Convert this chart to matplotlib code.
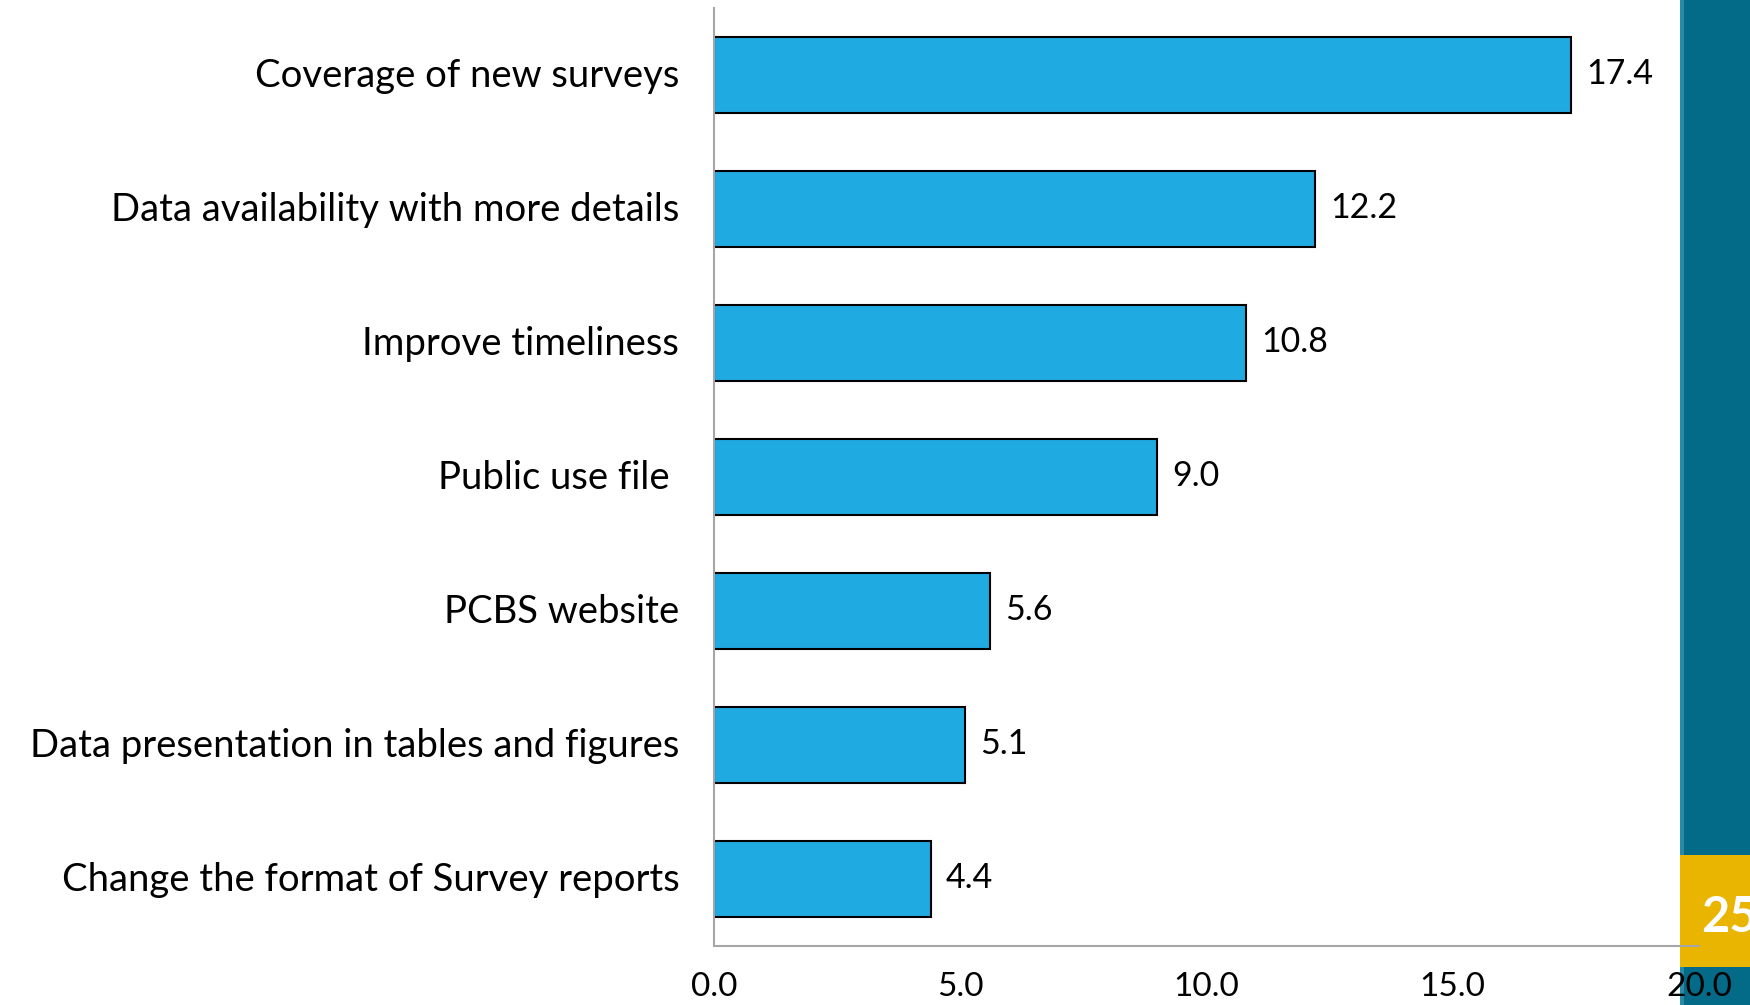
import matplotlib.pyplot as plt
import matplotlib.transforms as mtransforms
from matplotlib.patches import Rectangle

categories = [
    "Coverage of new surveys",
    "Data availability with more details",
    "Improve timeliness",
    "Public use file ",
    "PCBS website",
    "Data presentation in tables and figures",
    "Change the format of Survey reports",
]
values = [17.4, 12.2, 10.8, 9.0, 5.6, 5.1, 4.4]
x_ticks = [0, 5, 10, 15, 20]
page_number = "25"

plt.rcParams['font.family'] = ['Lato', 'DejaVu Sans']

fig = plt.figure(figsize=(17.5, 10.05), dpi=100)
fig.patch.set_facecolor("white")

# side band of the slide with the page number box
fig.patches.append(Rectangle((1680 / 1750, 0), 70 / 1750, 1, transform=fig.transFigure,
                             facecolor="#036B87", edgecolor="none", zorder=0))
fig.patches.append(Rectangle((1680 / 1750, 0), 4 / 1750, 1, transform=fig.transFigure,
                             facecolor="#2A8AA3", edgecolor="none", zorder=0))
fig.patches.append(Rectangle((1680 / 1750, 1 - 967 / 1005), 70 / 1750, 112 / 1005,
                             transform=fig.transFigure, facecolor="#EAB500",
                             edgecolor="none", zorder=1))
fig.text(1701 / 1750, 1 - 917 / 1005, page_number, color="white", fontsize=35,
         fontweight="bold", ha="left", va="center", zorder=2)

ax = fig.add_axes([714 / 1750, 1 - 946 / 1005, 985 / 1750, 938 / 1005])
ax.patch.set_visible(False)
ax.set_zorder(3)

pos = list(range(len(categories)))
bars = ax.barh(pos, values, height=0.57, color="#1FABE2", edgecolor="black", linewidth=1.5)
for b, v in zip(bars, values):
    ax.annotate(f"{v:.1f}", (v, b.get_y() + b.get_height() / 2), xytext=(11, 1),
                textcoords="offset points", va="center", ha="left", fontsize=24.5)

ax.set_xlim(0, 20)
ax.set_ylim(len(categories) - 0.5, -0.5)
ax.set_yticks(pos)
ax.set_yticklabels(categories, fontsize=27.5)
ax.set_xticks(x_ticks)
ax.set_xticklabels([f"{t:.1f}" for t in x_ticks], fontsize=24)
ax.tick_params(axis="both", length=0)
ax.tick_params(axis="y", pad=25)
ax.tick_params(axis="x", pad=19)

# nudge category labels up a little
lift = mtransforms.ScaledTranslation(0, 3 / 100, fig.dpi_scale_trans)
for lbl in ax.get_yticklabels():
    lbl.set_transform(lbl.get_transform() + lift)

for s in ["top", "right"]:
    ax.spines[s].set_visible(False)
for s in ["left", "bottom"]:
    ax.spines[s].set_color("#A6A6A6")
    ax.spines[s].set_linewidth(1.5)

fig.savefig("out.png", dpi=100)
